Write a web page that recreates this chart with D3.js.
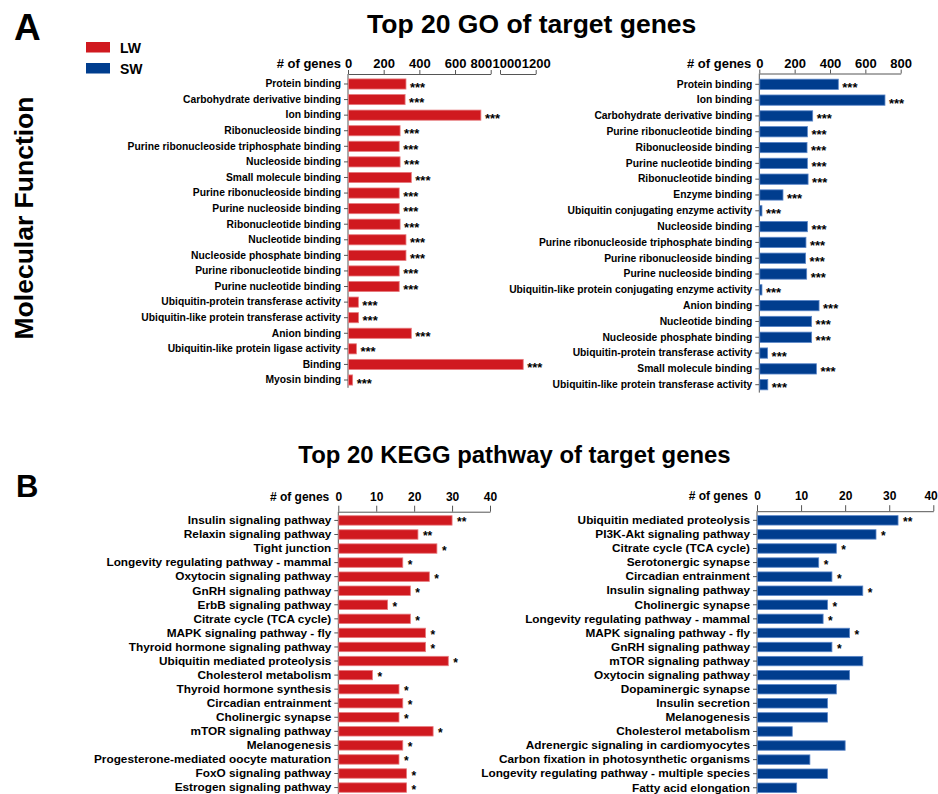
<!DOCTYPE html>
<html><head><meta charset="utf-8">
<script src="https://cdn.jsdelivr.net/npm/d3@7"></script>
<style>
body{margin:0;background:#fff}
svg{display:block}
text{font-family:"Liberation Sans",Arial,Helvetica,sans-serif;font-weight:bold;fill:#000}
</style>
</head><body>
<svg id="chart" width="938" height="794"></svg>
<script>
// ---------------- DATA ----------------
const goLwTerms = ["Protein binding","Carbohydrate derivative binding","Ion binding","Ribonucleoside binding","Purine ribonucleoside triphosphate binding","Nucleoside binding","Small molecule binding","Purine ribonucleoside binding","Purine nucleoside binding","Ribonucleotide binding","Nucleotide binding","Nucleoside phosphate binding","Purine ribonucleotide binding","Purine nucleotide binding","Ubiquitin-protein transferase activity","Ubiquitin-like protein transferase activity","Anion binding","Ubiquitin-like protein ligase activity","Binding","Myosin binding"];
const goLwCounts = [325,320,745,292,287,292,355,287,287,292,325,325,287,287,58,59,355,47,1130,26];
const goLwSig = ["***","***","***","***","***","***","***","***","***","***","***","***","***","***","***","***","***","***","***","***"];

const goSwTerms = ["Protein binding","Ion binding","Carbohydrate derivative binding","Purine ribonucleotide binding","Ribonucleoside binding","Purine nucleotide binding","Ribonucleotide binding","Enzyme binding","Ubiquitin conjugating enzyme activity","Nucleoside binding","Purine ribonucleoside triphosphate binding","Purine ribonucleoside binding","Purine nucleoside binding","Ubiquitin-like protein conjugating enzyme activity","Anion binding","Nucleotide binding","Nucleoside phosphate binding","Ubiquitin-protein transferase activity","Small molecule binding","Ubiquitin-like protein transferase activity"];
const goSwCounts = [447,711,302,272,270,272,276,134,15,272,264,262,268,15,338,296,296,47,323,48];
const goSwSig = ["***","***","***","***","***","***","***","***","***","***","***","***","***","***","***","***","***","***","***","***"];

const keggLwTerms = ["Insulin signaling pathway","Relaxin signaling pathway","Tight junction","Longevity regulating pathway - mammal","Oxytocin signaling pathway","GnRH signaling pathway","ErbB signaling pathway","Citrate cycle (TCA cycle)","MAPK signaling pathway - fly","Thyroid hormone signaling pathway","Ubiquitin mediated proteolysis","Cholesterol metabolism","Thyroid hormone synthesis","Circadian entrainment","Cholinergic synapse","mTOR signaling pathway","Melanogenesis","Progesterone-mediated oocyte maturation","FoxO signaling pathway","Estrogen signaling pathway"];
const keggLwCounts = [30,21,26,17,24,19,13,19,23,23,29,9,16,17,16,25,17,16,18,18];
const keggLwSig = ["**","**","*","*","*","*","*","*","*","*","*","*","*","*","*","*","*","*","*","*"];

const keggSwTerms = ["Ubiquitin mediated proteolysis","PI3K-Akt signaling pathway","Citrate cycle (TCA cycle)","Serotonergic synapse","Circadian entrainment","Insulin signaling pathway","Cholinergic synapse","Longevity regulating pathway - mammal","MAPK signaling pathway - fly","GnRH signaling pathway","mTOR signaling pathway","Oxytocin signaling pathway","Dopaminergic synapse","Insulin secretion","Melanogenesis","Cholesterol metabolism","Adrenergic signaling in cardiomyocytes","Carbon fixation in photosynthetic organisms","Longevity regulating pathway - multiple species","Fatty acid elongation"];
const keggSwCounts = [32,27,18,14,17,24,16,15,21,17,24,21,18,16,16,8,20,12,16,9];
const keggSwSig = ["**","*","*","*","*","*","*","*","*","*","","","","","","","","","",""];

const goTicksLow = [0,200,400,600,800];
const goTicksHigh = [1000,1200];
const goTicks = [0,200,400,600,800];
const keggTicks = [0,10,20,30,40];
const legendLabels = ["LW","SW"];
const axisTitle = "# of genes";
const goTitle = "Top 20 GO of target genes";
const keggTitle = "Top 20 KEGG pathway of target genes";
const goSide = "Molecular Function";

// ---------------- STYLE ----------------
const RED = "#d0191f", RED_EDGE = "#e77a7e";
const BLUE = "#003d8e", BLUE_EDGE = "#5a86c8";
const AXIS = "#555";

const svg = d3.select("#chart");

function drawPanel(o){
  const g = svg.append("g");
  const y = d3.scaleBand().domain(o.terms).range(o.yRange)
    .paddingInner(o.pad).paddingOuter(o.pad/2);
  const segs = o.segments.map(s => ({scale: d3.scaleLinear().domain(s.domain).range(s.range), ticks: s.ticks}));
  const xOf = v => {
    for (const s of segs){ const d = s.scale.domain(); if (v <= d[1]) return s.scale(Math.max(v, d[0])); }
    return segs[segs.length-1].scale(v);
  };
  const x0 = segs[0].scale(0);

  // x axis (top)
  segs.forEach((s, si) => {
    const ax = g.append("g").attr("transform", `translate(0,${o.axisY})`)
      .call(d3.axisTop(s.scale).tickValues(s.ticks).tickSize(o.tickSize).tickSizeOuter(0).tickPadding(o.tickPad).tickFormat(d3.format("d")));
    ax.selectAll("path,line").attr("stroke", AXIS).attr("stroke-width", 1);
    ax.selectAll("text").attr("font-size", o.tickFont).attr("font-family", null).style("font-weight","bold").attr("fill","#000");
    if (segs.length > 1){
      if (si === 0) ax.selectAll("text").filter(d => d === s.ticks[s.ticks.length-1]).attr("text-anchor","end").attr("dx", 1);
      if (si === 1) ax.selectAll("text").filter(d => d === s.ticks[0]).attr("text-anchor","start").attr("dx", -8);
    }
    if (o.lastEnd) ax.selectAll("text").filter(d => d === s.ticks[s.ticks.length-1]).attr("text-anchor","end").attr("dx", o.lastEnd);
  });
  g.append("text").attr("x", x0 - o.titleGap).attr("y", o.axisY - o.tickSize - o.tickPad)
    .attr("text-anchor","end").attr("font-size", o.tickFont).text(axisTitle);

  // y axis
  const yax = g.append("g").attr("transform", `translate(${x0},0)`)
    .call(d3.axisLeft(y).tickSize(4).tickSizeOuter(0).tickPadding(3));
  yax.select(".domain").remove();
  yax.selectAll("line").attr("stroke", AXIS);
  yax.selectAll("text").attr("font-size", o.labelFont).attr("font-family", null).style("font-weight","bold").attr("fill","#111");
  g.append("line").attr("x1", x0).attr("x2", x0).attr("y1", o.axisY).attr("y2", o.yRange[1])
    .attr("stroke", AXIS).attr("stroke-width", 1);

  // bars
  const rows = o.terms.map((t,i) => ({t, v:o.counts[i], s:o.sig[i]}));
  g.selectAll("rect.bar").data(rows).join("rect").attr("class","bar")
    .attr("x", x0 + 0.5).attr("y", d => y(d.t))
    .attr("width", d => Math.max(1, xOf(d.v) - x0 - 0.5)).attr("height", y.bandwidth())
    .attr("fill", o.color).attr("stroke", o.edge).attr("stroke-width", 0.8);

  // significance stars
  g.selectAll("text.sig").data(rows).join("text").attr("class","sig")
    .attr("x", d => xOf(d.v) + o.starGap)
    .attr("y", d => y(d.t) + y.bandwidth()/2 + o.starFont*o.starDy)
    .attr("font-size", o.starFont).attr("fill","#111").text(d => d.s);
}

// GO LW (broken axis)
drawPanel({terms: goLwTerms, counts: goLwCounts, sig: goLwSig,
  segments: [{domain:[0,800], range:[348,490.7], ticks: goTicksLow},
             {domain:[1000,1200], range:[500,535.7], ticks: goTicksHigh}],
  yRange:[76.2,387.8], pad:0.35, axisY:74, tickSize:4, tickPad:2, tickFont:13, titleGap:7,
  labelFont:10.3, color:RED, edge:RED_EDGE, starFont:13, starGap:4, starDy:0.58});

// GO SW
drawPanel({terms: goSwTerms, counts: goSwCounts, sig: goSwSig,
  segments: [{domain:[0,800], range:[759.3,900.7], ticks: goTicks}],
  yRange:[76.4,392.6], pad:0.35, axisY:73.5, tickSize:4, tickPad:2, tickFont:13, titleGap:8,
  labelFont:10.3, color:BLUE, edge:BLUE_EDGE, starFont:13, starGap:4, starDy:0.58});

// KEGG LW
drawPanel({terms: keggLwTerms, counts: keggLwCounts, sig: keggLwSig,
  segments: [{domain:[0,40], range:[338.3,490], ticks: keggTicks}],
  yRange:[513.4,794.6], pad:0.33, axisY:511.7, tickSize:6, tickPad:5, tickFont:12, titleGap:9,
  labelFont:11.8, color:RED, edge:RED_EDGE, starFont:12, starGap:5, starDy:0.5});

// KEGG SW
drawPanel({terms: keggSwTerms, counts: keggSwCounts, sig: keggSwSig,
  segments: [{domain:[0,40], range:[757,933.3], ticks: keggTicks}],
  yRange:[513.3,794.8], pad:0.33, axisY:511.2, tickSize:6, tickPad:5, tickFont:12, titleGap:9,
  labelFont:11.8, color:BLUE, edge:BLUE_EDGE, starFont:12, starGap:5, starDy:0.5, lastEnd:4});

// Titles and annotations
svg.append("text").attr("x", 531.7).attr("y", 33).attr("text-anchor","middle").attr("font-size", 26.5).text(goTitle);
svg.append("text").attr("x", 514.5).attr("y", 463).attr("text-anchor","middle").attr("font-size", 23.9).text(keggTitle);
svg.append("text").attr("x", 14).attr("y", 40).attr("font-size", 37).text("A");
svg.append("text").attr("x", 16).attr("y", 497).attr("font-size", 31).text("B");
svg.append("text").attr("transform","translate(33,218) rotate(-90)").attr("text-anchor","middle")
  .attr("font-size", 26.5).text(goSide);

// Legend
const legColors = [RED, BLUE];
const leg = svg.append("g");
legendLabels.forEach((l,i) => {
  leg.append("rect").attr("x",86).attr("y",42 + i*21).attr("width",24).attr("height",10.5).attr("fill",legColors[i]);
  leg.append("text").attr("x",120).attr("y",52.5 + i*21).attr("font-size",14).text(l);
});
</script>
</body></html>
